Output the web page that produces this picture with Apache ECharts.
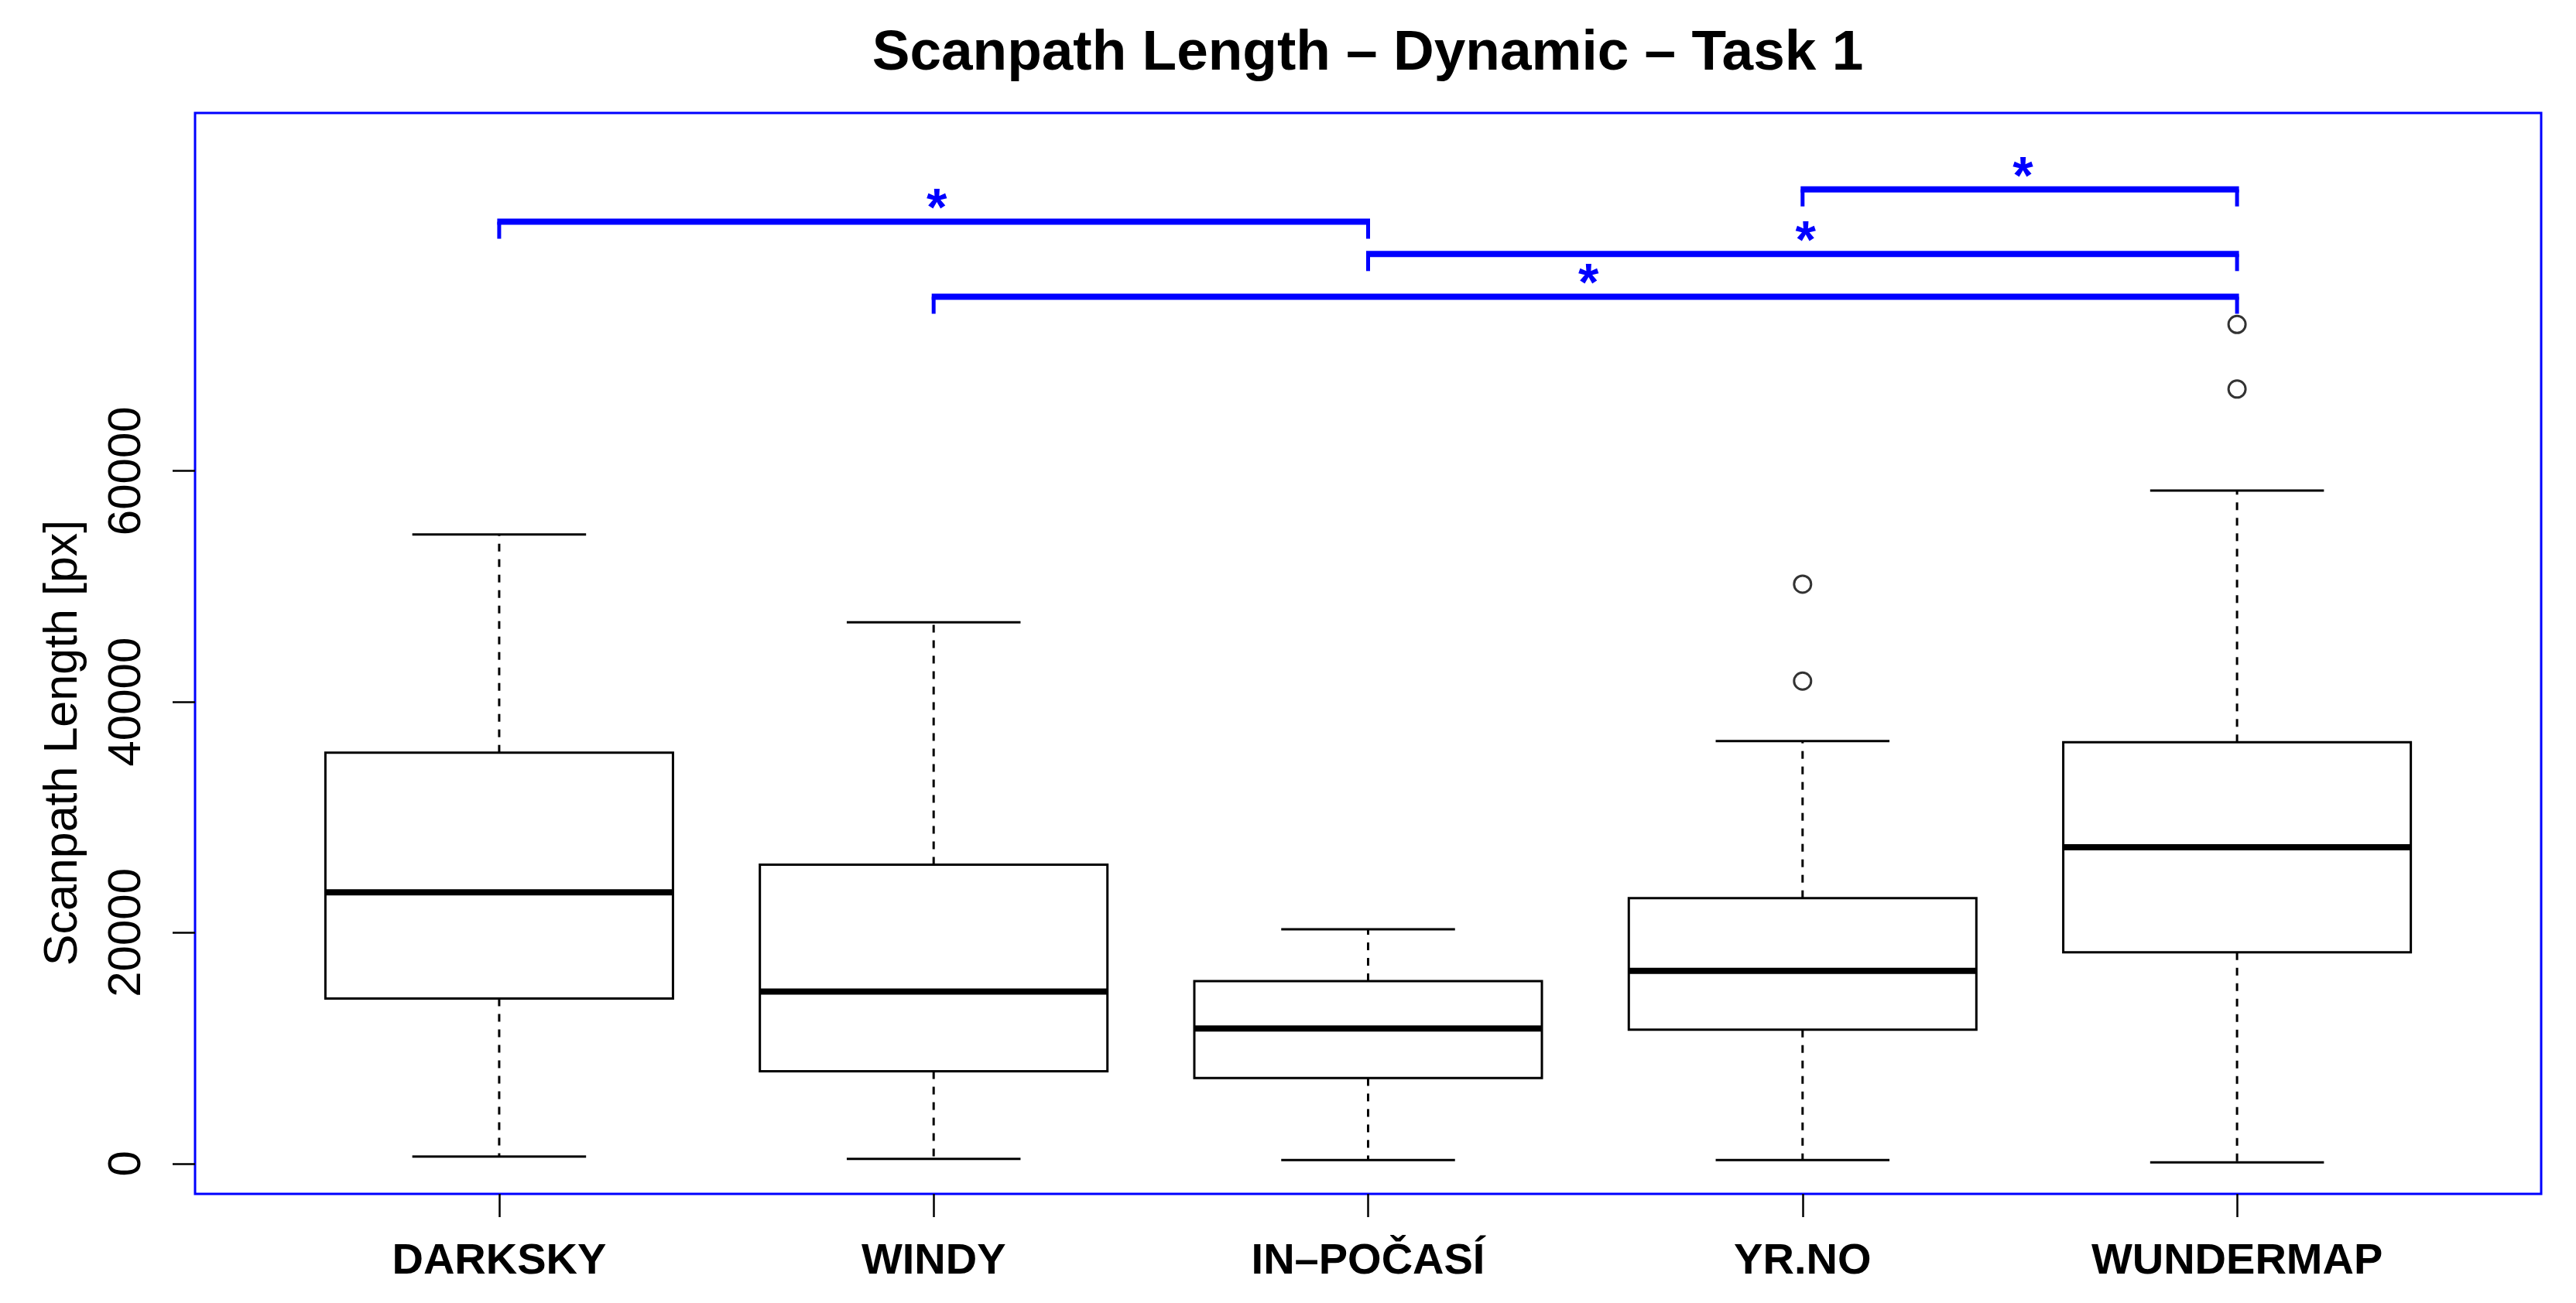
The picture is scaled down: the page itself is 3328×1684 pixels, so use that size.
<!DOCTYPE html>
<html>
<head>
<meta charset="utf-8">
<script src="https://cdn.jsdelivr.net/npm/echarts@6/dist/echarts.min.js"></script>
<style>
html,body{margin:0;padding:0;background:#fff;}
#chart{width:3328px;height:1684px;}
</style>
</head>
<body>
<div id="chart"></div>
<script>
// ---- data ----
const categories   = ['DARKSKY', 'WINDY', 'IN–POČASÍ', 'YR.NO', 'WUNDERMAP'];
const whiskerLow   = [600,   400,   300,   300,   100];
const q1           = [14300, 8000,  7400,  11600, 18300];
const median       = [23500, 14900, 11700, 16700, 27400];
const q3           = [35600, 25900, 15800, 23000, 36500];
const whiskerHigh  = [54500, 46900, 20300, 36600, 58300];
const outlierGroup = [4, 4, 5, 5];
const outlierValue = [50200, 41800, 72700, 67100];
const yTicks       = [0, 20000, 40000, 60000];
const bracketFrom  = [1, 2, 3, 4];
const bracketTo    = [3, 5, 5, 5];
const bracketY     = [81600, 75100, 78800, 84400];
const bracketLabel = ['*', '*', '*', '*'];

const positions = categories.map((_, i) => i + 1);
const boxData = positions.map((p, i) => [p, whiskerLow[i], q1[i], median[i], q3[i], whiskerHigh[i]]);
const outlierData = outlierGroup.map((g, i) => [g, outlierValue[i]]);
const bracketData = bracketFrom.map((f, i) => [f, bracketTo[i], bracketY[i], bracketLabel[i]]);

const chart = echarts.init(document.getElementById('chart'), null, {renderer: 'canvas'});

function renderBox(params, api) {
  const x = api.value(0);
  const lo = api.coord([x, api.value(1)]);
  const a  = api.coord([x, api.value(2)]);
  const m  = api.coord([x, api.value(3)]);
  const b  = api.coord([x, api.value(4)]);
  const hi = api.coord([x, api.value(5)]);
  const half = api.size([0.4, 0])[0];
  const cap = half / 2;
  const cx = lo[0];
  const solid = {stroke: '#000', lineWidth: 3, fill: null};
  const dashed = {stroke: '#000', lineWidth: 3, lineDash: [10, 10], fill: null};
  return {
    type: 'group',
    children: [
      {type: 'line', shape: {x1: cx, y1: b[1], x2: cx, y2: hi[1]}, style: dashed},
      {type: 'line', shape: {x1: cx, y1: a[1], x2: cx, y2: lo[1]}, style: dashed},
      {type: 'line', shape: {x1: cx - cap, y1: hi[1], x2: cx + cap, y2: hi[1]}, style: solid},
      {type: 'line', shape: {x1: cx - cap, y1: lo[1], x2: cx + cap, y2: lo[1]}, style: solid},
      {type: 'rect', shape: {x: cx - half, y: b[1], width: 2 * half, height: a[1] - b[1]}, style: {stroke: '#000', lineWidth: 3, fill: 'rgba(255,255,255,0)'}},
      {type: 'line', shape: {x1: cx - half, y1: m[1], x2: cx + half, y2: m[1]}, style: {stroke: '#000', lineWidth: 8}}
    ]
  };
}

function renderBracket(params, api) {
  const p1 = api.coord([api.value(0), api.value(2)]);
  const p2 = api.coord([api.value(1), api.value(2)]);
  const drop = 22;
  const blue = '#0000ff';
  return {
    type: 'group',
    children: [
      {type: 'line', shape: {x1: p1[0] - 2.5, y1: p1[1], x2: p2[0] + 2.5, y2: p2[1]}, style: {stroke: blue, lineWidth: 8}},
      {type: 'line', shape: {x1: p1[0], y1: p1[1], x2: p1[0], y2: p1[1] + drop}, style: {stroke: blue, lineWidth: 5}},
      {type: 'line', shape: {x1: p2[0], y1: p2[1], x2: p2[0], y2: p2[1] + drop}, style: {stroke: blue, lineWidth: 5}},
      {type: 'text', x: (p1[0] + p2[0]) / 2 + 4, y: p1[1] - 14,
        style: {text: api.value(3), fill: blue, font: 'bold 68px "Liberation Sans", Arial, sans-serif', align: 'center', verticalAlign: 'middle', textAlign: 'center', textVerticalAlign: 'middle'}}
    ]
  };
}

chart.setOption({
  animation: false,
  backgroundColor: '#ffffff',
  grid: {left: 252, right: 45, top: 146, bottom: 141, show: true, borderColor: '#0000ff', borderWidth: 3, backgroundColor: 'rgba(0,0,0,0)', containLabel: false, outerBoundsMode: 'none'},
  xAxis: {
    type: 'value', min: 0.3, max: 5.7, position: 'bottom',
    axisLine: {show: false, onZero: false}, splitLine: {show: false},
    axisTick: {show: true, customValues: positions, length: 30, lineStyle: {color: '#000', width: 2.5}},
    axisLabel: {show: true, customValues: positions, margin: 60,
      formatter: v => categories[Math.round(v) - 1] || '',
      color: '#000', fontSize: 56, fontWeight: 'bold', fontFamily: '"Liberation Sans", Arial, sans-serif'}
  },
  yAxis: {
    type: 'value', min: -2631, max: 91022, position: 'left',
    axisLine: {show: false, onZero: false}, splitLine: {show: false},
    axisTick: {show: true, customValues: yTicks, length: 29, lineStyle: {color: '#000', width: 2.5}},
    axisLabel: {show: true, customValues: yTicks, rotate: 90, margin: 58,
      formatter: v => String(v),
      color: '#000', fontSize: 60, fontFamily: '"Liberation Sans", Arial, sans-serif'}
  },
  graphic: [
    {type: 'text', x: 1767, y: 70, style: {text: 'Scanpath Length – Dynamic – Task 1', font: 'bold 73px "Liberation Sans", Arial, sans-serif', fill: '#000', align: 'center', verticalAlign: 'middle', textAlign: 'center', textVerticalAlign: 'middle'}},
    {type: 'text', x: 82, y: 960, rotation: Math.PI / 2, style: {text: 'Scanpath Length [px]', font: '61px "Liberation Sans", Arial, sans-serif', fill: '#000', align: 'center', verticalAlign: 'middle', textAlign: 'center', textVerticalAlign: 'middle'}}
  ],
  series: [
    {type: 'custom', name: 'box', renderItem: renderBox, data: boxData, encode: {x: 0, y: [1, 2, 3, 4, 5]}, clip: false, z: 2},
    {type: 'scatter', name: 'outliers', data: outlierData, symbol: 'circle', symbolSize: 22,
      itemStyle: {color: 'rgba(255,255,255,0)', borderColor: '#000', borderWidth: 3}, z: 3},
    {type: 'custom', name: 'brackets', renderItem: renderBracket, data: bracketData, encode: {x: [0, 1], y: 2}, clip: false, z: 4}
  ]
});
</script>
</body>
</html>
